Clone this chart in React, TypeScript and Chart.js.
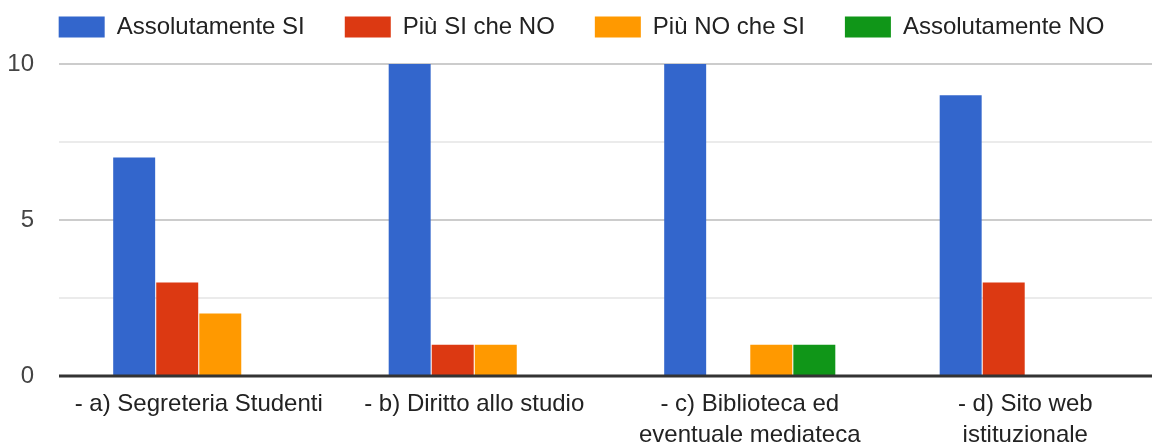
import React, { useEffect, useRef } from 'react';
import { Chart, registerables } from 'chart.js';

Chart.register(...registerables);

const categories: (string | string[])[] = [
  '- a) Segreteria Studenti',
  '- b) Diritto allo studio',
  ['- c) Biblioteca ed', 'eventuale mediateca'],
  ['- d) Sito web', 'istituzionale'],
];
const seriesNames = ['Assolutamente SI', 'Più SI che NO', 'Più NO che SI', 'Assolutamente NO'];
const assolutamenteSi = [7, 10, 10, 9];
const piuSiCheNo = [3, 1, 0, 3];
const piuNoCheSi = [2, 1, 1, 0];
const assolutamenteNo = [0, 0, 1, 0];
const seriesColors = ['#3366cc', '#dc3912', '#ff9900', '#109618'];
const yLabelValues = [0, 5, 10];

const FONT = "'Liberation Sans', Arial, sans-serif";
const W = 1163;
const H = 446;

const legendFitPlugin = {
  id: 'legendFit',
  beforeLayout(chart: any) {
    const lg = chart.legend;
    if (lg && !lg._patched) {
      const orig = lg.fit.bind(lg);
      lg.fit = function () {
        orig();
        this.height = 89;
      };
      lg._patched = true;
    }
  },
};

const baselinePlugin = {
  id: 'baseline',
  afterDatasetsDraw(chart: any) {
    const { ctx, chartArea, scales } = chart;
    const y = scales.y.getPixelForValue(0);
    ctx.save();
    ctx.strokeStyle = '#333333';
    ctx.lineWidth = 3;
    ctx.beginPath();
    ctx.moveTo(chartArea.left - 2, y);
    ctx.lineTo(chartArea.right, y);
    ctx.stroke();
    ctx.restore();
  },
};

export default function App() {
  const ref = useRef<HTMLCanvasElement>(null);
  useEffect(() => {
    document.documentElement.style.overflow = 'hidden';
    document.body.style.margin = '0';
    document.body.style.overflow = 'hidden';
    const values = [assolutamenteSi, piuSiCheNo, piuNoCheSi, assolutamenteNo];
    const chart = new Chart(ref.current!, {
      type: 'bar',
      data: {
        labels: categories,
        datasets: seriesNames.map((name, i) => ({
          label: name,
          data: values[i],
          backgroundColor: seriesColors[i],
          borderWidth: 0,
          barPercentage: 0.975,
          categoryPercentage: 0.625,
        })),
      },
      options: {
        responsive: false,
        animation: false,
        devicePixelRatio: 1,
        layout: { padding: { top: -25, left: 0, right: 0, bottom: 0 } },
        font: { family: FONT },
        plugins: {
          tooltip: { enabled: false },
          legend: {
            position: 'top',
            labels: {
              boxWidth: 46,
              boxHeight: 21,
              padding: 40,
              color: '#222222',
              font: { family: FONT, size: 24 },
            },
          },
        },
        scales: {
          x: {
            grid: { display: false, drawTicks: false },
            border: { display: false },
            ticks: {
              color: '#222222',
              font: { family: FONT, size: 24, lineHeight: 1.3 },
              padding: 13,
              maxRotation: 0,
              autoSkip: false,
            },
            afterFit(scale: any) {
              scale.height = 70;
            },
          },
          y: {
            min: 0,
            max: 10,
            border: { display: false },
            grid: {
              drawTicks: true,
              tickLength: 2,
              lineWidth: 2,
              color: (ctx: any) => {
                const v = ctx.tick ? ctx.tick.value : 0;
                if (v === 0) return 'rgba(0,0,0,0)';
                return yLabelValues.includes(v) ? '#cccccc' : '#ebebeb';
              },
            },
            ticks: {
              stepSize: 2.5,
              color: '#444444',
              font: { family: FONT, size: 24 },
              padding: 25,
              callback: (v: any) => (yLabelValues.includes(Number(v)) ? String(v) : ''),
            },
            afterFit(scale: any) {
              scale.width = 61;
            },
          },
        },
      } as any,
      plugins: [legendFitPlugin, baselinePlugin],
    });
    return () => chart.destroy();
  }, []);
  return (
    <div style={{ position: 'absolute', left: 0, top: 0, width: W, height: H }}>
      <canvas ref={ref} width={W} height={H} style={{ width: W, height: H, display: 'block' }} />
    </div>
  );
}
